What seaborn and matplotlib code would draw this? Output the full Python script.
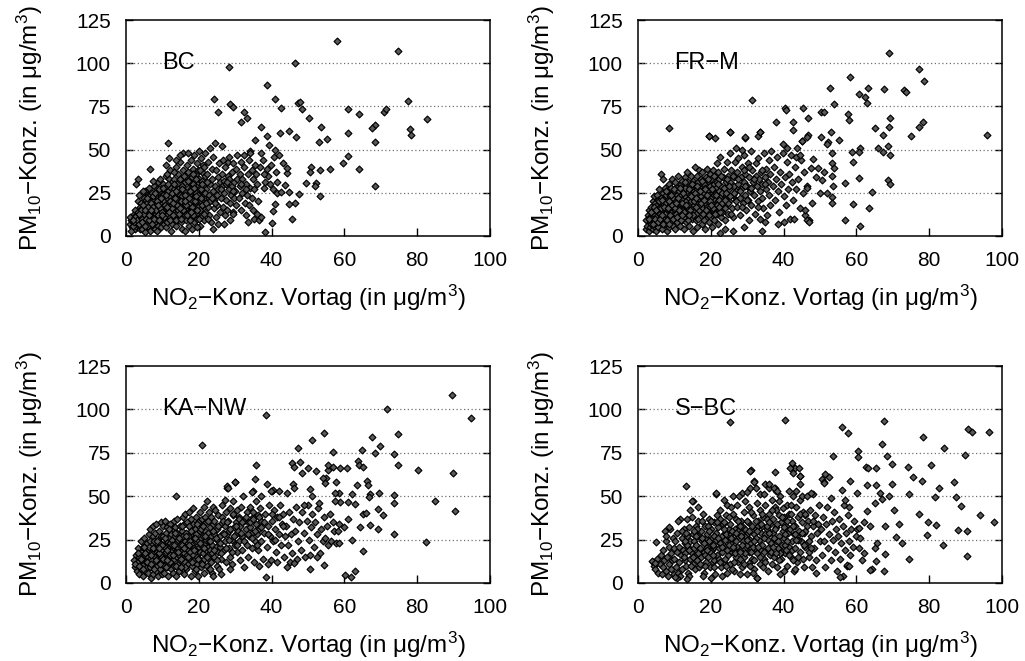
import matplotlib
matplotlib.use("Agg")
import matplotlib.pyplot as plt
import seaborn as sns
import pandas as pd

# ---------------- data (NO2 previous day, PM10) ----------------
stations = ["BC", "FR\u2212M", "KA\u2212NW", "S\u2212BC"]

bc_points = [
(1.1,7),(1.3,9),(1.6,5),(1.2,11),(1.8,8),(2.0,6),(2.2,10),(2.5,4),(2.1,13),(2.7,7),(2.9,9),(2.4,15),(1.5,3),(2.8,12),(3.0,5),(3.2,8),(3.4,14),(3.1,11),(3.6,6),(3.8,17),(3.3,20),(3.7,10),(2.7,30),(3.3,33),(3.9,4),(3.5,24),
(4.1,9),(4.3,13),(4.0,6),(4.5,16),(4.6,11),(4.8,7),(4.2,19),(4.9,22),(4.4,4),(4.7,14),(5.0,9),(5.2,17),(5.1,12),(5.4,5),(5.5,21),(5.3,26),(5.7,8),(5.8,15),(5.6,11),(5.9,19),(6.0,24),(6.1,6),(6.3,13),(6.2,28),(6.5,10),(6.4,17),(6.7,21),(6.6,3),(6.8,8),(6.9,15),(6.7,39),(6.2,23),(5.2,2.5),(4.6,26),
(7.0,12),(7.1,18),(7.3,9),(7.2,25),(7.5,14),(7.4,6),(7.6,21),(7.8,29),(7.7,11),(7.9,16),(8.0,4),(8.2,23),(8.1,8),(8.4,19),(8.3,13),(8.6,27),(8.5,10),(8.7,31),(8.9,15),(8.8,6),(9.0,21),(9.1,12),(9.3,25),(9.2,17),(9.5,9),(9.4,33),(9.6,14),(9.8,28),(9.7,5),(9.9,19),(9.5,23),(8.5,3),(7.4,32),
(10.0,11),(10.2,17),(10.1,24),(10.4,7),(10.3,30),(10.6,14),(10.5,20),(10.8,27),(10.7,9),(10.9,35),(11.0,16),(11.2,22),(11.1,5),(11.4,29),(11.3,12),(11.6,19),(11.5,26),(11.8,9),(11.7,33),(11.9,15),(12.0,23),(12.2,38),(12.1,11),(12.4,18),(12.3,28),(12.6,7),(12.5,31),(12.8,14),(12.7,21),(12.9,25),(11.5,54),(11.8,45),(10.9,41),(12.3,3),(11.3,36),
(13.0,17),(13.2,10),(13.1,27),(13.4,22),(13.3,33),(13.6,13),(13.5,19),(13.8,40),(13.7,6),(13.9,25),(14.0,30),(14.2,15),(14.1,21),(14.4,9),(14.3,36),(14.6,27),(14.5,18),(14.8,12),(14.7,43),(14.9,24),(15.0,33),(15.2,20),(15.1,8),(15.4,29),(15.3,14),(15.6,38),(15.5,23),(15.8,17),(15.7,48),(15.9,26),(13.6,44),(14.9,47),(15.4,4),(13.2,37),
(16.0,21),(16.2,12),(16.1,31),(16.4,16),(16.3,26),(16.6,35),(16.5,9),(16.8,22),(16.7,41),(16.9,18),(17.0,28),(17.2,14),(17.1,37),(17.4,24),(17.3,6),(17.6,31),(17.5,19),(17.8,44),(17.7,11),(17.9,27),(18.0,34),(18.2,21),(18.1,15),(18.4,39),(18.3,26),(18.6,8),(18.5,30),(18.8,17),(18.7,47),(18.9,23),(17.0,48),(16.3,3),(18.2,4),
(19.0,28),(19.2,13),(19.1,36),(19.4,20),(19.3,25),(19.6,42),(19.5,10),(19.8,31),(19.7,17),(19.9,38),(20.0,23),(20.2,6),(20.1,33),(20.4,15),(20.3,28),(20.6,45),(20.5,20),(20.8,37),(20.7,11),(20.9,26),(21.0,32),(21.2,18),(21.1,41),(21.4,24),(21.3,9),(21.6,35),(21.5,29),(21.8,14),(21.7,48),(21.9,22),(20.0,49),(19.5,5),
(22.1,27),(22.4,17),(22.3,36),(22.7,22),(22.6,43),(22.9,12),(23.2,30),(23.1,20),(23.5,39),(23.4,8),(23.8,26),(23.7,33),(24.1,16),(24.0,46),(24.4,29),(24.3,21),(24.7,38),(24.6,11),(24.9,24),(25.2,34),(25.1,18),(25.5,42),(25.4,27),(25.8,14),(25.7,31),(23.0,51),(24.4,54),(24.0,4),(25.2,7),
(26.1,22),(26.4,36),(26.3,29),(26.7,17),(26.6,44),(27.0,25),(26.9,32),(27.3,12),(27.2,40),(27.6,21),(27.5,30),(27.9,35),(27.8,15),(28.2,27),(28.1,43),(28.5,19),(28.4,33),(28.8,24),(28.7,9),(29.1,37),(29.0,29),(29.4,14),(29.3,42),(29.7,22),(29.6,31),(30.0,26),(30.3,18),(30.2,39),(30.6,47),(30.5,33),(26.5,52),(28.3,46),(29.5,13),(27.0,7),
(31.0,22),(31.3,36),(31.2,29),(31.6,15),(31.5,43),(32.0,25),(31.9,33),(32.3,40),(32.6,19),(32.5,47),(33.0,30),(32.9,12),(33.4,36),(33.3,24),(33.8,44),(33.7,18),(34.2,28),(34.1,49),(34.6,38),(34.5,22),(35.0,33),(34.9,15),(35.4,41),(35.3,27),(35.8,36),(36.0,30),(33.6,8),(35.2,10),(36.2,20),(34.0,48),
(36.8,40),(37.2,63),(37.5,44),(38.0,28),(38.1,2.5),(38.3,31),(38.7,58),(38.7,39),(39.2,52.7),(39.0,35),(39.5,30),(40.1,7.7),(40.4,14.7),(40.8,18.5),(40.6,45.9),(41.0,49.8),(41.2,36.8),(41.5,24.7),(42.6,25.3),(42.3,59.8),(40.5,27),(37.8,36),(36.5,9),(37.0,11),(39.8,41),(42.0,47),
(57.9,113),(74.8,107.3),(46.3,100),(28.4,98),(38.7,87.2),(24.1,79.1),(25.2,71.8),(28.6,76.4),(29.3,74.8),(32.3,71.6),(31.6,65.8),(33.2,68.3),(41.0,79.1),(42.6,73.9),(47.2,76.8),(47.9,77.7),(48.3,73.5),(50.2,68.5),(44.7,60.8),(46.8,57.1),(35.5,55.6),(53.5,62.9),(55.2,55.9),(52.9,54.2),(61.1,59.4),(61.1,46.3),(59.7,42.4),(61.1,73.5),(63.9,70.4),(68.3,64.2),(67.7,62.7),(68.3,54.2),(64.1,38.6),(68.4,29.1),(71.0,71.6),(71.4,73.5),(77.5,77.9),(77.9,61.7),(78.2,58.4),(82.7,67.7),(56.1,38.6),(53.4,38.2),(50.8,39.7),(50.6,37.0),(49.5,30.5),(52.1,30.9),(52.0,29.1),(53.4,23.3),(45.7,9.8),(46.5,18.9),(44.7,18.5),(44.2,36.3),(44.2,39.2),(43.6,29.5),(44.8,25.5),(47.6,24.1),(41.5,31.0),(43.0,42.0),(37.0,48.0),(36.0,13.0),
]
bc_core_extra = [
(1.9,6),(2.3,8),(2.6,11),(3.0,9),(3.5,7),(3.8,12),(4.0,15),(4.3,10),(4.5,8),(4.8,18),(5.0,13),(5.3,6),(5.5,10),(5.8,22),(6.0,17),(6.3,9),(6.6,14),(6.8,19),(7.1,7),(7.3,23),(7.5,17),(7.8,10),(8.0,25),(8.2,15),(8.5,20),(8.7,12),(9.0,9),(9.2,27),(9.4,16),(9.7,22),(10.0,14),(10.2,28),(10.5,11),(10.7,18),(11.0,24),(11.2,8),(11.5,30),(11.7,14),(12.0,20),(12.2,9),(12.5,25),(12.7,16),(13.0,12),(13.2,30),(13.5,22),(13.7,9),(14.0,18),(14.2,27),(14.5,13),(14.7,33),(15.0,20),(15.2,10),(15.5,27),(15.7,15),(16.0,35),(16.2,24),(16.5,18),(16.7,12),(17.0,32),(17.2,22),(17.5,9),(17.7,26),(18.0,17),(18.3,36),(18.5,12),(18.8,28),(19.0,20),(19.3,33),(19.5,15),(19.8,24),(20.0,10),(20.3,38),(20.5,27),(20.8,18),(21.0,30),(21.3,13),(21.5,40),(21.8,25),(22.0,19),(22.3,31),(22.5,10),(2.0,9),(3.6,13),(5.1,15),(6.4,12),(7.0,15),(8.9,18),(9.9,12),(11.4,17),(12.9,19),(13.8,26),(14.9,16),(16.3,20),(17.8,14),(19.1,23),(20.7,22),(22.8,24),(23.5,22),(24.5,19),(26.0,27),(27.8,31),(29.5,26),(31.5,30),(33.0,27),
]

frm_points = [
(2.1,4),(2.3,9),(2.5,6),(2.7,12),(2.9,3),(3.0,15),(3.2,8),(3.4,11),(3.3,5),(3.6,17),(3.8,13),(3.7,7),(3.9,10),(4.0,20),(4.2,4),(4.1,14),(4.4,9),(4.3,23),(4.6,16),(4.5,6),(4.8,12),(4.7,19),(4.9,3),
(5.0,11),(5.2,18),(5.1,7),(5.4,14),(5.3,24),(5.6,5),(5.5,21),(5.8,9),(5.7,16),(5.9,27),(6.0,13),(6.2,36),(6.1,19),(6.4,8),(6.3,22),(6.6,11),(6.5,15),(6.8,25),(6.7,4),(6.9,18),(7.0,33),(7.2,12),(7.1,21),(7.4,7),(7.3,28),(7.6,15),(7.5,10),(7.8,19),(7.7,24),(7.9,3),
(8.0,13),(8.2,17),(8.1,26),(8.4,9),(8.3,21),(8.6,30),(8.5,5),(8.8,15),(8.7,11),(8.9,23),(9.0,19),(9.2,8),(9.1,28),(9.4,14),(9.3,33),(9.6,12),(9.5,22),(9.8,17),(9.7,6),(9.9,26),(10.0,10),(10.2,31),(10.1,15),(10.4,20),(10.3,4),(10.6,24),(10.5,13),(10.8,28),(10.7,8),(10.9,18),
(11.0,22),(11.2,11),(11.1,35),(11.4,16),(11.3,26),(11.6,6),(11.5,19),(11.8,30),(11.7,13),(11.9,24),(12.0,9),(12.2,21),(12.1,32),(12.4,15),(12.3,27),(12.6,4),(12.5,18),(12.8,34),(12.7,11),(12.9,23),(13.0,28),(13.2,14),(13.1,20),(13.4,37),(13.3,8),(13.6,25),(13.5,17),(13.8,31),(13.7,12),(13.9,22),
(14.0,18),(14.2,29),(14.1,6),(14.4,24),(14.3,13),(14.6,35),(14.5,20),(14.8,10),(14.7,27),(14.9,16),(15.0,32),(15.2,22),(15.1,3),(15.4,14),(15.3,26),(15.6,40),(15.5,18),(15.8,9),(15.7,30),(15.9,23),(16.0,13),(16.2,35),(16.1,27),(16.4,19),(16.3,5),(16.6,24),(16.5,31),(16.8,15),(16.7,38),(16.9,21),
(17.0,28),(17.2,11),(17.1,18),(17.4,33),(17.3,23),(17.6,7),(17.5,26),(17.8,16),(17.7,37),(17.9,21),(18.0,30),(18.2,13),(18.1,25),(18.4,4),(18.3,19),(18.6,34),(18.5,28),(18.8,10),(18.7,22),(18.9,17),(19.0,39),(19.2,26),(19.1,14),(19.4,31),(19.3,20),(19.6,8),(19.5,24),(19.8,36),(19.7,17),(19.9,29),(19.4,58),
(20.0,22),(20.2,12),(20.1,33),(20.4,27),(20.3,5),(20.6,19),(20.5,38),(20.8,24),(20.7,15),(20.9,30),(21.0,9),(21.2,35),(21.1,21),(21.4,28),(21.3,17),(21.6,42),(21.5,25),(21.8,13),(21.7,31),(21.9,20),(22.0,37),(22.2,26),(22.1,7),(22.4,16),(22.3,33),(22.6,23),(22.5,46),(22.8,29),(22.7,11),(22.9,19),(21.1,56.6),(22.5,2),
(23.1,25),(23.3,34),(23.2,14),(23.6,21),(23.5,39),(23.9,28),(23.8,9),(24.2,31),(24.1,18),(24.5,43),(24.4,24),(24.8,13),(24.7,35),(25.1,27),(25.0,20),(25.4,48),(25.3,31),(25.7,16),(25.6,38),(26.0,24),(26.3,29),(26.2,11),(26.6,43),(26.5,34),(26.9,21),(25.2,60),(26.8,51),(24.0,4),(26.0,3),
(27.0,26),(27.3,37),(27.2,17),(27.6,30),(27.5,45),(27.9,22),(28.2,34),(28.1,12),(28.5,40),(28.4,27),(28.8,19),(29.1,31),(29.0,47),(29.4,24),(29.3,36),(29.7,15),(30.0,29),(30.3,42),(30.2,21),(30.6,34),(30.5,9),(30.9,26),(31.2,38),(31.1,18),(31.5,31),(29.3,57),(28.6,50),(29.0,5),(31.0,49),
(32.0,24),(32.3,35),(32.2,13),(32.6,29),(32.5,42),(32.9,20),(33.2,33),(33.1,45),(33.5,26),(33.4,10),(33.8,37),(34.2,22),(34.1,30),(34.5,48),(34.4,16),(34.8,34),(35.2,27),(35.1,39),(35.5,12),(35.8,31),(36.1,44),(36.0,24),(36.4,36),(36.3,18),(33.0,57.7),(33.5,60),(34.0,3),(35.0,8),(36.5,49),
(37.0,29),(37.3,40),(37.6,21),(37.9,33),(38.2,46),(38.5,26),(38.8,14),(39.1,37),(39.4,30),(39.7,48),(40.0,23),(40.3,34),(40.6,18),(40.9,43),(41.2,27),(41.5,36),(41.8,10),(42.1,47),(42.4,31),(42.7,21),(43.0,40),(43.3,27),(43.6,51),(44.0,33),(44.4,16),(44.8,44),(45.2,25),(45.6,37),(46.0,12),(46.4,29),(38.5,7),(40.0,8),(42.8,10),(41.0,51),(39.7,53),(43.5,46),(44.6,47),(45.0,55),(46.5,28),(47.0,9),(42.5,65.8),(37.8,65.8),
(68.9,106.1),(77.3,96.5),(78.7,89.5),(58.2,92.2),(52.8,85.8),(60.7,82.0),(62.3,80.6),(63.2,85.5),(62.9,77.2),(67.7,85.3),(73.2,84.5),(73.7,83.1),(31.2,78.7),(40.5,73.9),(40.7,73.1),(45.4,73.9),(53.8,76.6),(50.4,72.0),(51.0,72.0),(57.7,70.6),(58.0,67.1),(46.6,68.5),(8.5,62.3),(33.5,60.2),(25.2,60.0),(19.4,58.1),(29.3,57.1),(42.5,61.3),(46.7,58.4),(46.4,57.1),(45.1,55.0),(50.2,57.1),(53.1,60.0),(55.2,55.6),(52.2,54.2),(51.9,53.0),(53.3,48.2),(65.2,62.7),(67.3,58.4),(69.1,68.1),(68.9,63.3),(75.0,57.9),(77.1,62.9),(78.3,65.8),(95.9,58.4),(58.8,48.4),(59.0,42.6),(61.1,50.7),(60.8,48.4),(65.9,50.7),(67.3,48.8),(68.6,52.3),(69.1,46.7),(68.6,32.4),(69.3,29.9),(57.0,30.9),(60.7,33.8),(59.1,18.5),(64.3,25.7),(63.4,16.0),(57.0,9.3),(61.1,6.0),(53.3,42.1),(53.9,39.2),(53.3,34.7),(53.7,29.1),(53.3,22.8),(53.3,19.3),(51.0,37.2),(50.6,32.4),(49.4,39.2),(50.1,25.1),(51.9,25.1),(48.1,44.4),(47.6,39.2),(48.8,34.3),(47.8,18.9),(46.4,9.3),(47.1,8.3),(46.0,15.0),
]
frm_core_extra = [
(3.1,10),(3.5,14),(4.0,7),(4.4,17),(4.8,10),(5.0,15),(5.4,8),(5.7,20),(6.0,10),(6.3,16),(6.6,21),(6.9,7),(7.2,17),(7.5,13),(7.8,26),(8.0,9),(8.3,16),(8.6,20),(8.9,12),(9.1,24),(9.4,18),(9.7,10),(10.0,27),(10.3,16),(10.6,11),(10.9,22),(11.2,15),(11.5,28),(11.8,9),(12.1,19),(12.4,25),(12.7,14),(13.0,31),(13.3,18),(13.6,9),(13.9,27),(14.2,15),(14.5,23),(14.8,30),(15.1,12),(15.4,20),(15.7,25),(16.0,17),(16.3,29),(16.6,10),(16.9,26),(17.2,19),(17.5,32),(17.8,13),(18.1,21),(18.4,27),(18.7,15),(19.0,24),(19.3,33),(19.6,12),(19.9,20),(20.2,27),(20.5,16),(20.8,35),(21.1,13),(21.4,24),(21.7,18),(22.0,30),(22.3,21),(22.6,14),(22.9,35),(23.2,19),(23.5,28),(23.8,16),(24.1,25),(24.4,33),(24.7,19),(25.0,29),(25.3,23),(25.6,13),(26.0,35),(26.5,25),(27.0,20),(27.5,33),(28.0,26),(28.5,17),(29.0,38),(29.5,29),(30.0,21),(30.5,40),(31.0,28),(32.0,33),(33.0,17),(34.0,38),(35.0,30),(6.5,12),(8.4,7),(10.5,19),(12.2,12),(14.0,12),(16.0,22),(18.0,9),(20.0,18),(22.2,17),(24.0,21),
]

kanw_points = [
(2.2,13),(2.5,9),(2.8,16),(3.0,7),(3.2,12),(3.4,20),(3.5,5),(3.7,15),(3.9,10),(4.0,24),(4.1,8),(4.3,18),(4.5,13),(4.6,4),(4.8,21),(4.9,11),(5.0,26),(5.1,16),(5.3,7),(5.4,19),(5.6,12),(5.8,23),(5.9,9),(3.3,17),(2.6,11),
(6.0,15),(6.2,28),(6.1,6),(6.4,19),(6.3,11),(6.6,24),(6.5,14),(6.8,3),(6.7,31),(6.9,17),(7.0,9),(7.2,22),(7.1,13),(7.4,27),(7.3,5),(7.6,18),(7.5,33),(7.8,11),(7.7,24),(7.9,15),(8.0,20),(8.2,7),(8.1,29),(8.4,14),(8.3,34),(8.6,18),(8.5,10),(8.8,25),(8.7,4),(8.9,21),
(9.0,13),(9.2,30),(9.1,17),(9.4,8),(9.3,23),(9.6,35),(9.5,12),(9.8,19),(9.7,27),(9.9,5),(10.0,15),(10.2,33),(10.1,22),(10.4,10),(10.3,27),(10.6,17),(10.5,6),(10.8,36),(10.7,21),(10.9,13),(11.0,29),(11.2,9),(11.1,18),(11.4,24),(11.3,32),(11.6,15),(11.5,4),(11.8,26),(11.7,20),(11.9,11),
(12.0,34),(12.2,16),(12.1,23),(12.4,8),(12.3,28),(12.6,19),(12.5,13),(12.8,31),(12.7,25),(12.9,6),(13.0,21),(13.2,36),(13.1,14),(13.4,27),(13.3,10),(13.6,18),(13.5,32),(13.8,23),(13.7,4),(13.9,15),(14.0,29),(14.2,11),(14.1,37),(14.4,20),(14.3,25),(14.6,7),(14.5,16),(14.8,33),(14.7,22),(14.9,13),
(15.0,26),(15.2,18),(15.1,9),(15.4,30),(15.3,14),(15.6,38),(15.5,22),(15.8,5),(15.7,27),(15.9,17),(16.0,34),(16.2,12),(16.1,24),(16.4,20),(16.3,40),(16.6,8),(16.5,29),(16.8,16),(16.7,35),(16.9,23),(17.0,11),(17.2,27),(17.1,19),(17.4,41),(17.3,14),(17.6,32),(17.5,24),(17.8,4),(17.7,18),(17.9,37),
(18.0,22),(18.2,29),(18.1,10),(18.4,43),(18.3,16),(18.6,26),(18.5,34),(18.8,13),(18.7,20),(18.9,7),(19.0,31),(19.2,24),(19.1,38),(19.4,15),(19.3,28),(19.6,11),(19.5,19),(19.8,35),(19.7,25),(19.9,4),(20.0,21),(20.2,41),(20.1,14),(20.4,30),(20.3,18),(20.6,9),(20.5,26),(20.8,37),(20.7,22),(20.9,12),
(21.0,33),(21.2,17),(21.1,27),(21.4,44),(21.3,6),(21.6,23),(21.5,14),(21.8,30),(21.7,38),(21.9,19),(22.0,25),(22.2,10),(22.1,35),(22.4,21),(22.3,47),(22.6,16),(22.5,29),(22.8,41),(22.7,8),(22.9,24),(23.0,19),(23.2,32),(23.1,13),(23.4,27),(23.3,38),(23.6,22),(23.5,6),(23.8,34),(23.7,17),(23.9,44),
(24.1,28),(24.3,15),(24.2,36),(24.6,21),(24.5,42),(24.9,10),(25.1,31),(25.0,25),(25.4,18),(25.3,39),(25.7,27),(25.6,8),(26.0,34),(25.9,21),(26.3,45),(26.2,14),(26.6,29),(26.5,38),(26.9,19),(27.2,33),(27.1,24),(27.5,12),(27.4,41),(27.8,28),(27.7,55),(27.2,48),(26.0,5),(24.0,4),
(28.1,36),(28.4,20),(28.3,30),(28.7,43),(28.6,15),(29.0,25),(29.3,39),(29.2,11),(29.6,32),(29.5,47),(29.9,22),(30.2,35),(30.1,28),(30.5,18),(30.4,42),(30.8,30),(31.1,24),(31.0,38),(31.4,13),(31.3,33),(31.7,44),(32.0,27),(31.9,19),(32.3,36),(32.2,50),(30.0,58),(28.5,8),(32.5,9),
(33.0,31),(33.3,41),(33.2,22),(33.6,35),(33.5,15),(33.9,27),(34.2,44),(34.1,32),(34.5,20),(34.8,38),(34.7,29),(35.1,12),(35.0,41),(35.4,24),(35.7,34),(35.6,47),(36.0,28),(36.3,19),(36.2,39),(36.6,31),(36.9,43),(37.2,24),(37.1,36),(37.5,14),(35.0,53),(36.5,10),(37.0,50),
(38.0,29),(38.3,40),(38.6,21),(38.9,33),(39.2,45),(39.5,27),(39.8,13),(40.1,36),(40.4,24),(40.7,42),(41.0,31),(41.3,18),(41.6,38),(41.9,28),(42.2,45),(42.5,22),(42.8,34),(43.1,40),(43.4,15),(43.7,27),(39.0,11),(41.5,12),(42.0,53),(40.0,53),
(44.0,33),(44.4,22),(44.8,41),(45.2,28),(45.6,17),(46.0,37),(46.4,30),(46.8,44),(47.2,24),(47.6,35),(48.0,19),(48.4,41),(48.8,29),(49.2,15),(49.6,36),(50.0,45),(50.4,25),(50.8,32),(51.2,40),(51.6,21),(52.0,35),(52.4,28),(52.8,43),(53.2,17),(53.6,31),(54.0,24),(54.4,38),(54.8,26),(55.2,33),(55.6,22),(56.0,40),(56.4,24),(56.8,35),(57.2,30),(45.0,12),(47.0,14),(49.0,45),(51.0,50),(53.0,46),(55.0,60.4),(57.8,23),
(89.5,108.1),(94.8,94.9),(71.6,100.5),(38.4,96.8),(20.9,79.6),(13.7,50.4),(89.7,63.3),(90.3,41.6),(80.1,65.2),(85.0,47.0),(82.4,23.6),(74.8,85.7),(74.8,68.1),(73.5,74.2),(73.5,50.8),(73.5,46.0),(73.6,28.2),(69.9,79.0),(68.3,74.8),(67.7,84.0),(64.8,76.7),(63.7,70.0),(64.0,68.1),(65.0,66.7),(63.4,56.6),(66.1,58.5),(66.6,56.6),(67.1,51.2),(66.8,49.3),(69.6,52.1),(69.3,42.8),(69.3,31.1),(70.5,38.9),(67.1,33.6),(64.2,32.0),(65.2,39.7),(65.9,40.3),(62.1,51.4),(61.1,46.6),(62.9,45.4),(65.0,18.6),(62.2,24.9),(61.1,37.0),(60.0,32.0),(62.9,6.7),(61.8,3.5),(60.2,4.8),(58.8,46.8),(58.4,51.8),(57.5,51.8),(57.3,47.4),(58.8,66.5),(60.6,66.5),(57.7,57.9),(58.4,33.9),(58.2,30.1),(58.6,23.0),(54.5,86.3),(51.2,82.4),(47.2,78.0),(45.6,69.4),(46.1,67.1),(47.9,69.6),(48.3,63.6),(50.1,66.1),(52.2,64.6),(55.4,65.2),(57.0,75.2),(55.4,68.1),(54.2,60.4),(54.7,57.5),(57.0,67.1),(35.6,68.1),(35.5,59.8),(30.0,58.1),(27.7,55.6),(28.0,54.6),(34.6,52.7),(38.7,57.1),(40.3,53.7),(39.7,53.1),(45.8,56.9),(46.1,54.6),(44.2,52.1),(50.6,54.1),(46.1,11.5),(44.2,9.2),(50.6,8.2),(54.5,10.2),(38.4,3.5),(52.4,14.8),(50.6,16.3),
]
kanw_core_extra = [
(3.5,10),(4.2,14),(4.8,8),(5.3,17),(5.8,12),(6.2,21),(6.6,9),(7.0,16),(7.4,20),(7.8,8),(8.2,13),(8.6,24),(9.0,17),(9.4,11),(9.8,22),(10.2,14),(10.6,26),(11.0,9),(11.4,19),(11.8,31),(12.2,12),(12.6,22),(13.0,16),(13.4,29),(13.8,10),(14.2,18),(14.6,26),(15.0,14),(15.4,33),(15.8,20),(16.2,9),(16.6,27),(17.0,15),(17.4,22),(17.8,30),(18.2,12),(18.6,19),(19.0,26),(19.4,34),(19.8,14),(20.2,23),(20.6,31),(21.0,11),(21.4,20),(21.8,27),(22.2,15),(22.6,36),(23.0,24),(23.4,12),(23.8,30),(24.2,19),(24.6,26),(25.0,13),(25.4,33),(25.8,23),(26.2,17),(26.6,36),(27.0,28),(27.4,20),(27.8,35),(28.2,25),(28.6,31),(29.0,18),(29.4,40),(29.8,27),(30.2,33),(30.6,22),(31.0,37),(31.5,29),(32.0,35),(32.5,24),(33.0,38),(33.5,28),(34.0,35),(34.5,26),(35.0,37),(35.5,30),(36.0,22),(36.5,38),(37.0,32),(38.0,35),(39.0,28),(40.0,40),(41.0,25),(42.0,38),(43.0,33),(5.0,21),(7.0,11),(9.2,20),(11.2,13),(13.2,22),(15.2,9),(17.2,33),(19.2,8),(21.2,33),(23.2,8),
]

sbc_points = [
(4.2,12),(4.5,10),(4.8,8),(5.2,14),(5.5,6),(6.0,11),(6.3,16),(6.5,5),(6.8,9),(7.0,19),(7.2,13),(7.5,30),(7.6,7),(7.8,24),(8.0,15),(8.2,4),(8.4,11),(8.6,21),(8.8,31),(9.0,8),(9.2,17),(9.4,13),(9.6,26),(9.8,5),(9.9,20),(7.8,27),(8.5,32),
(10.0,14),(10.2,24),(10.4,9),(10.6,18),(10.8,29),(11.0,6),(11.2,21),(11.4,12),(11.6,37),(11.8,16),(12.0,26),(12.2,8),(12.4,19),(12.6,31),(12.8,13),(12.9,23),(11.0,36),(12.0,30),(11.5,4),(10.8,3),
(13.0,17),(13.2,10),(13.4,27),(13.6,21),(13.8,6),(14.0,32),(14.2,14),(14.4,24),(14.6,18),(14.8,38),(15.0,11),(15.2,28),(15.4,20),(15.6,8),(15.8,33),(15.9,16),(13.5,37),(14.3,42),(15.0,47),(14.0,4),(13.3,29),(15.5,24),
(16.0,22),(16.2,13),(16.4,36),(16.6,27),(16.8,9),(17.0,19),(17.2,30),(17.4,15),(17.6,24),(17.8,40),(18.0,6),(18.2,18),(18.4,33),(18.6,26),(18.8,12),(18.9,21),(16.5,44),(17.8,4),(16.1,31),(17.5,36),(18.5,16),(16.9,20),
(19.0,28),(19.2,15),(19.4,37),(19.6,23),(19.8,9),(20.0,31),(20.2,19),(20.4,26),(20.6,12),(20.8,35),(21.0,21),(21.2,5),(21.4,29),(21.6,16),(21.8,39),(21.9,24),(20.0,3),(21.5,51),(19.3,33),(20.5,22),(21.0,13),(19.7,18),(20.9,27),
(22.0,32),(22.2,14),(22.4,23),(22.6,37),(22.8,9),(23.0,27),(23.2,18),(23.4,34),(23.6,12),(23.8,29),(24.0,21),(24.2,39),(24.4,6),(24.6,25),(24.8,16),(24.9,31),(22.5,42),(23.5,48),(24.5,45),(23.0,4),(22.3,20),(24.1,28),(23.7,35),
(25.0,22),(25.2,34),(25.4,11),(25.6,28),(25.8,18),(26.0,40),(26.2,25),(26.4,7),(26.6,31),(26.8,15),(27.0,37),(27.2,21),(27.4,27),(27.6,12),(27.8,33),(27.9,5),(26.0,50),(27.3,45),(25.5,44),(26.5,19),(27.0,24),(25.9,30),(27.5,30),
(28.0,19),(28.2,29),(28.4,36),(28.6,9),(28.8,24),(29.0,41),(29.2,15),(29.4,31),(29.6,21),(29.8,27),(30.0,5),(30.2,35),(30.4,18),(30.6,44),(30.8,25),(30.9,12),(28.5,52),(29.5,47),(30.8,55),(31.0,65),(28.7,33),(29.9,22),(30.3,29),(28.1,14),
(31.0,23),(31.2,33),(31.4,14),(31.6,39),(31.8,28),(32.0,8),(32.2,20),(32.4,31),(32.6,46),(32.8,17),(33.0,36),(33.2,25),(33.4,11),(33.6,42),(33.8,29),(33.9,19),(32.0,59),(32.5,55),(33.5,51),(32.8,3),(31.5,6),(32.3,26),(33.0,33),(31.1,18),
(34.0,33),(34.2,22),(34.4,38),(34.6,14),(34.8,28),(35.0,45),(35.2,19),(35.4,31),(35.6,7),(35.8,25),(36.0,40),(36.2,16),(36.4,34),(36.6,23),(36.8,48),(36.9,11),(35.0,57),(36.0,55),(34.5,51),(35.5,37),(36.4,29),(34.3,9),(35.7,20),
(37.0,29),(37.2,37),(37.4,15),(37.6,44),(37.8,24),(38.0,32),(38.2,9),(38.4,20),(38.6,39),(38.8,27),(39.0,50),(39.2,14),(39.4,35),(39.6,22),(39.8,43),(39.9,30),(37.5,55),(38.0,53),(39.0,5),(38.6,47),(37.3,26),(39.5,18),(38.1,34),
(40.0,26),(40.2,38),(40.4,17),(40.6,33),(40.8,45),(41.0,10),(41.2,29),(41.4,21),(41.6,40),(41.8,31),(42.0,15),(42.2,36),(42.4,24),(42.6,50),(42.8,7),(42.9,28),(40.0,7),(41.5,53),(42.5,67),(42.0,45),(41.0,36),(40.5,22),(42.2,19),
(43.0,33),(43.2,20),(43.4,44),(43.6,27),(43.8,12),(44.0,38),(44.2,30),(44.4,18),(44.6,48),(44.8,24),(45.0,35),(45.2,14),(45.4,41),(45.6,29),(45.8,21),(45.9,39),(43.5,53),(44.5,61.7),(45.0,50),(44.0,25),(43.2,8),(45.5,9),
(46.0,30),(46.3,23),(46.6,36),(46.9,15),(47.2,42),(47.5,27),(47.8,9),(48.1,33),(48.4,20),(48.7,39),(49.0,13),(49.3,29),(49.6,45),(49.9,24),(46.5,50),(48.0,51),(47.0,18),(48.8,6),(49.5,34),
(50.2,31),(50.5,16),(50.8,38),(51.1,24),(51.4,9),(51.7,34),(52.0,44),(52.3,20),(52.6,28),(52.9,13),(53.2,36),(53.5,25),(53.8,41),(54.1,18),(54.4,31),(54.7,7),(55.0,27),(55.3,37),(55.6,14),(55.9,23),(56.2,33),(56.5,45),(56.8,19),(57.1,29),(57.4,10),(57.7,39),(58.0,24),(58.3,16),(58.6,31),(59.0,21),(59.4,36),(59.8,27),(60.2,31),(60.6,20),(61.0,26),(50.5,60),(51.0,58),(53.0,49),(57.0,48),(58.0,44),
(25.4,93.0),(40.5,93.7),(67.7,93.2),(56.1,89.7),(57.7,86.3),(78.2,84.0),(67.1,79.9),(84.2,77.6),(90.7,88.6),(91.8,87.2),(96.3,87.2),(89.9,73.8),(93.9,38.9),(97.9,35.3),(90.4,29.7),(90.4,15.3),(88.6,44.1),(87.4,49.3),(86.8,57.9),(87.9,30.3),(83.7,22.0),(82.6,54.6),(81.5,49.5),(81.9,33.6),(79.8,34.9),(80.5,67.7),(79.4,27.4),(77.1,39.7),(77.9,58.9),(75.5,61.3),(74.2,67.1),(74.4,51.2),(74.4,13.8),(72.6,23.0),(71.0,26.5),(71.6,34.1),(70.3,42.2),(69.9,57.1),(69.9,68.6),(68.3,72.9),(68.9,50.4),(66.6,51.8),(67.1,48.3),(65.2,46.0),(67.9,32.6),(67.9,16.9),(67.7,6.7),(65.4,56.2),(65.5,66.5),(62.5,67.1),(63.2,66.5),(60.4,76.1),(60.4,72.3),(53.6,73.2),(62.8,56.2),(62.8,41.6),(62.0,34.9),(60.7,31.6),(63.8,32.6),(65.7,23.0),(65.2,20.1),(64.3,8.2),(63.8,7.3),(65.5,12.5),(61.6,13.4),(62.0,17.3),(58.2,58.5),(56.1,53.3),(60.2,51.8),(56.4,3.8),(55.6,3.3),(57.3,10.5),(57.9,9.6),(51.5,62.9),(52.4,61.3),(51.2,57.5),(47.4,51.8),(42.4,69.4),(43.1,66.5),(44.2,66.1),(44.4,61.7),(44.4,56.9),(42.7,63.3),(41.7,66.5),(37.5,64.2),(30.9,64.8),(32.0,58.1),(36.0,56.9),(37.4,54.6),(38.2,53.1),(21.3,51.8),(27.7,50.4),(30.0,52.7),(13.3,55.6),(14.8,47.4),(5.0,23.6),(3.8,12.8),(4.6,11.5),(10.3,3.3),(13.5,2.5),(32.8,2.9),
]
sbc_core_extra = [
(12.5,15),(13.5,22),(14.5,10),(15.5,30),(16.5,17),(17.5,26),(18.5,10),(19.5,30),(20.5,16),(21.5,25),(22.5,12),(23.5,31),(24.5,19),(25.5,26),(26.5,12),(27.5,36),(28.5,22),(29.5,17),(30.5,30),(31.5,21),(32.5,36),(33.5,15),(34.5,26),(35.5,33),(36.5,18),(37.5,31),(38.5,24),(39.5,38),(40.5,28),(41.5,16),(42.5,33),(43.5,25),(44.5,40),(45.5,22),(46.5,33),(47.5,20),(13.0,24),(14.0,19),(15.0,15),(16.0,27),(17.0,11),(18.0,23),(19.0,19),(20.0,36),(21.0,9),(22.0,26),(23.0,21),(24.0,14),(25.0,38),(26.0,21),(27.0,29),(28.0,33),(29.0,11),(30.0,25),(31.0,41),(32.0,13),(33.0,21),(34.0,40),(35.0,12),(36.0,29),(37.0,21),(38.0,42),(39.0,17),(40.0,32),(41.0,24),(42.0,40),(43.0,28),(44.0,15),(45.0,29),(46.0,40),(47.0,24),(48.0,36),(24.3,10),(26.7,17),(28.3,27),(30.7,10),(32.7,30),(34.7,18),(36.7,42),(38.7,13),(40.7,19),(42.7,13),(19.4,24),(21.7,35),(23.9,25),(25.9,8),(27.9,18),(29.9,36),(31.9,24),(33.9,34),(35.9,35),(37.9,17),
]

station_points = [bc_points + bc_core_extra, frm_points + frm_core_extra,
                  kanw_points + kanw_core_extra, sbc_points + sbc_core_extra]
x_ticks = [0, 20, 40, 60, 80, 100]
y_ticks = [0, 25, 50, 75, 100, 125]
x_label = "NO$_2$\u2212Konz. Vortag (in \u03bcg/m$^3$)"
y_label = "PM$_{10}$\u2212Konz. (in \u03bcg/m$^3$)"

# ---------------- style ----------------
sns.set_theme(style="white")
plt.rcParams["font.family"] = ["Liberation Sans", "DejaVu Sans"]
plt.rcParams["mathtext.fontset"] = "custom"
plt.rcParams["mathtext.rm"] = "Liberation Sans"
plt.rcParams["mathtext.it"] = "Liberation Sans:italic"
plt.rcParams["mathtext.default"] = "regular"
plt.rcParams["text.color"] = "black"
plt.rcParams["axes.labelcolor"] = "black"
plt.rcParams["xtick.color"] = "black"
plt.rcParams["ytick.color"] = "black"

fig = plt.figure(figsize=(10.25, 6.61), dpi=100)
W, H = 1025, 661
boxes = [(126, 20, 490, 236), (638, 20, 1002, 236),
         (126, 366, 490, 583), (638, 366, 1002, 583)]

for name, pts, (l, t, r, b) in zip(stations, station_points, boxes):
    ax = fig.add_axes([l / W, 1 - b / H, (r - l) / W, (b - t) / H])
    df = pd.DataFrame(pts, columns=["no2", "pm10"])
    sns.scatterplot(data=df, x="no2", y="pm10", ax=ax, marker="D", s=12,
                    color="#5a5a5a", edgecolor="#000000", linewidth=0.85,
                    legend=False, zorder=3)
    ax.set_xlim(0, 100)
    ax.set_ylim(0, 125)
    ax.set_xticks(x_ticks)
    ax.set_yticks(y_ticks)
    ax.tick_params(axis="x", direction="in", length=6, width=1.0, pad=11,
                   labelsize=15, bottom=True, top=False, colors="black")
    ax.tick_params(axis="y", direction="in", length=5, width=1.0, pad=11,
                   labelsize=15, left=True, right=True, colors="black")
    for y in [25, 50, 75, 100]:
        ax.axhline(y, color="#707070", linestyle=(0, (1, 2)), linewidth=0.9, zorder=1)
    for s in ax.spines.values():
        s.set_color("black")
        s.set_linewidth(1.1)
    ax.set_xlabel(x_label, fontsize=17.5, labelpad=9, color="black")
    ax.set_ylabel(y_label, fontsize=17.5, labelpad=22, color="black")
    ax.text(10, 100, name, fontsize=17, ha="left", va="center", color="black", zorder=4)

fig.savefig("out.png", dpi=100)
